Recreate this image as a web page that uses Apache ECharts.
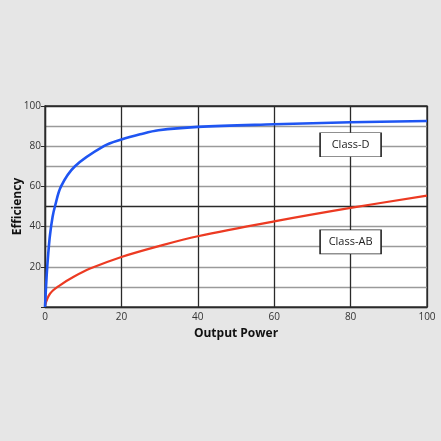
<!DOCTYPE html>
<html>
<head>
<meta charset="utf-8">
<script src="https://cdn.jsdelivr.net/npm/echarts@6/dist/echarts.min.js"></script>
<style>
  html, body { margin: 0; padding: 0; background: #e6e6e6; }
  #main { width: 441px; height: 441px; }
</style>
</head>
<body>
<div id="main"></div>
<script>
// Class-D efficiency curve (output power, efficiency)
var classDX = [0, 0.44, 0.87, 1.3, 2.0, 2.6, 4.2, 7.85, 15.4, 20, 24.9, 29.7, 40, 60, 80, 100];
var classDY = [0, 15.8, 27, 35.7, 45, 50, 60, 70, 80, 83.3, 85.9, 87.9, 89.6, 90.9, 91.9, 92.5];
// Class-AB efficiency curve
var classABX = [0, 1.3, 3.9, 7.4, 11.8, 20, 30, 40, 60, 80, 100];
var classABY = [0.8, 6.6, 10.8, 14.9, 19.1, 24.9, 30.4, 35.2, 42.6, 49.3, 55.4];
// labels in boxes
var boxNames = ['Class-D', 'Class-AB'];
var boxPos = [[80, 80.7], [80, 32.4]];

function pairs(xs, ys) {
  var out = [];
  for (var i = 0; i < xs.length; i++) out.push([xs[i], ys[i]]);
  return out;
}

var font = '"Open Sans", "DejaVu Sans", sans-serif';
var gray = '#9a9a9a', dark = '#2a2a2a';
var hColors = [gray, gray, gray, gray, gray, dark, gray, gray, gray, gray, dark];

var chart = echarts.init(document.getElementById('main'));
var option = {
  backgroundColor: '#e6e6e6',
  animation: false,
  grid: { left: 45, right: 14, top: 106, bottom: 134, backgroundColor: '#fff', show: true, borderColor: dark, borderWidth: 1.3 },
  xAxis: {
    type: 'value', min: 0, max: 100, interval: 20,
    name: 'Output Power', nameLocation: 'middle', nameGap: 21,
    nameTextStyle: { fontFamily: font, fontWeight: 'bold', fontSize: 12, color: '#111' },
    axisLine: { lineStyle: { color: dark, width: 1.3 } },
    axisTick: { show: false },
    axisLabel: { fontFamily: font, fontSize: 10, color: '#333', margin: 5 },
    splitLine: { show: true, lineStyle: { color: dark, width: 1.3 } }
  },
  yAxis: [{
    type: 'value', min: 0, max: 100, interval: 10, position: 'left',
    name: 'Efficiency', nameLocation: 'middle', nameGap: 21, nameRotate: 90,
    nameTextStyle: { fontFamily: font, fontWeight: 'bold', fontSize: 12, color: '#111' },
    axisLine: { lineStyle: { color: dark, width: 1.3 } },
    axisTick: { show: false },
    axisLabel: { show: false },
    splitLine: { show: true, lineStyle: { color: hColors, width: 1.4 } }
  }, {
    type: 'value', min: 0, max: 100, interval: 20, position: 'left', offset: 0,
    axisLine: { show: false },
    axisTick: { show: true, length: 4, lineStyle: { color: dark } },
    axisLabel: {
      fontFamily: font, fontSize: 10, color: '#333', margin: 4,
      formatter: function (v) { return v === 0 ? '' : v; }
    },
    splitLine: { show: false }
  }],
  series: [{
    type: 'line', name: 'Class-D', data: pairs(classDX, classDY),
    smooth: 0.35, symbol: 'none',
    lineStyle: { color: '#1f55f2', width: 2.6 }, z: 5
  }, {
    type: 'line', name: 'Class-AB', data: pairs(classABX, classABY),
    smooth: 0.35, symbol: 'none',
    lineStyle: { color: '#ec3a22', width: 2.2 }, z: 4,
    markPoint: {
      symbol: 'rect', symbolSize: [61, 24], silent: true,
      itemStyle: { color: '#fff', borderColor: '#222', borderWidth: 1 },
      label: { show: true, position: 'inside', fontFamily: font, fontSize: 11, color: '#222',
        formatter: function (p) { return p.name; } },
      data: boxNames.map(function (n, i) { return { name: n, coord: boxPos[i] }; })
    }
  }]
};
chart.setOption(option);
</script>
</body>
</html>
